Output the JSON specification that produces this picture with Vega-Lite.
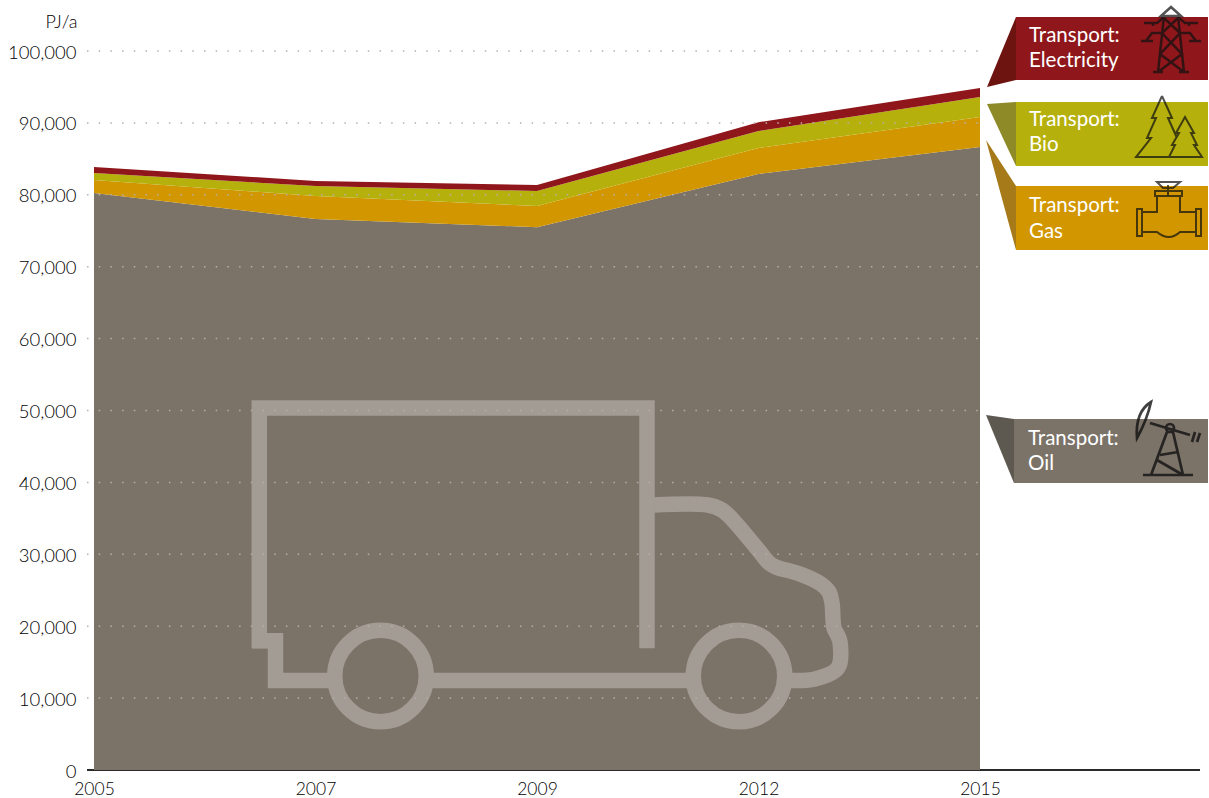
{
"$schema":"https://vega.github.io/schema/vega-lite/v6.json",
"width":1115,"height":719,"autosize":{"type":"none"},
"padding":{"left":94,"top":51,"right":0,"bottom":28},
"background":"white",
"config":{"view":{"stroke":null},"font":"Lato"},
"datasets":{
"energy":[
{"year":"2005","series":"Transport: Oil","rank":1,"pj":80250},
{"year":"2007","series":"Transport: Oil","rank":1,"pj":76630},
{"year":"2009","series":"Transport: Oil","rank":1,"pj":75500},
{"year":"2012","series":"Transport: Oil","rank":1,"pj":82900},
{"year":"2015","series":"Transport: Oil","rank":1,"pj":86650},
{"year":"2005","series":"Transport: Gas","rank":2,"pj":1800},
{"year":"2007","series":"Transport: Gas","rank":2,"pj":3200},
{"year":"2009","series":"Transport: Gas","rank":2,"pj":2940},
{"year":"2012","series":"Transport: Gas","rank":2,"pj":3600},
{"year":"2015","series":"Transport: Gas","rank":2,"pj":4170},
{"year":"2005","series":"Transport: Bio","rank":3,"pj":980},
{"year":"2007","series":"Transport: Bio","rank":3,"pj":1390},
{"year":"2009","series":"Transport: Bio","rank":3,"pj":2090},
{"year":"2012","series":"Transport: Bio","rank":3,"pj":2370},
{"year":"2015","series":"Transport: Bio","rank":3,"pj":2780},
{"year":"2005","series":"Transport: Electricity","rank":4,"pj":830},
{"year":"2007","series":"Transport: Electricity","rank":4,"pj":700},
{"year":"2009","series":"Transport: Electricity","rank":4,"pj":830},
{"year":"2012","series":"Transport: Electricity","rank":4,"pj":1230},
{"year":"2015","series":"Transport: Electricity","rank":4,"pj":1250}
],
"truck":[
{"part":"box","seq":1,"u":553,"v":16926},{"part":"box","seq":2,"u":553,"v":50347},{"part":"box","seq":3,"u":165.3,"v":50347},{"part":"box","seq":4,"u":165.3,"v":16926},
{"part":"chassis","seq":1,"u":158,"v":17969},{"part":"chassis","seq":2,"u":181.5,"v":17969},{"part":"chassis","seq":3,"u":181.5,"v":12448},{"part":"chassis","seq":4,"u":241,"v":12448},
{"part":"bar","seq":1,"u":331,"v":12448},{"part":"bar","seq":2,"u":596,"v":12448}
],
"cab":[
{"seq":1,"u":560,"v":36856},{"seq":2,"u":614,"v":36856},{"seq":3,"u":628,"v":36161},{"seq":4,"u":639,"v":34770},{"seq":4.5,"u":666,"v":30320},{"seq":5,"u":675,"v":28800},{"seq":5.2,"u":682,"v":28233},{"seq":6,"u":706,"v":27260},{"seq":7,"u":727,"v":25869},{"seq":8,"u":735,"v":24756},{"seq":9,"u":738,"v":23226},{"seq":10,"u":740,"v":19749},{"seq":11,"u":744,"v":18637},{"seq":12,"u":746,"v":17802},{"seq":13,"u":746,"v":14882},{"seq":14,"u":742,"v":13908},{"seq":15,"u":721,"v":12656},{"seq":16,"u":706,"v":12448},{"seq":17,"u":691,"v":12448}
]
},
"resolve":{"scale":{"x":"independent","color":"independent"},"axis":{"y":"independent"}},
"layer":[
{"data":{"values":[{"u0":-7,"u1":1106,"v":0}]},"mark":{"type":"rule","stroke":"#2a2a2a","strokeWidth":2},
 "encoding":{"x":{"field":"u0","type":"quantitative","scale":{"domain":[0,1115]},"axis":null},"x2":{"field":"u1"},"y":{"field":"v","type":"quantitative","scale":{"domain":[0,100000],"nice":false},"axis":null}}},
{"data":{"name":"energy"},"mark":{"type":"area","interpolate":"linear"},
 "encoding":{
  "x":{"field":"year","type":"ordinal","scale":{"type":"point","domain":["2005","2007","2009","2012","2015"],"range":[0,886],"padding":0},
   "axis":{"title":null,"domain":false,"ticks":false,"labelAngle":0,"labelFont":"Lato","labelFontSize":17.5,"labelFontWeight":300,"labelColor":"#000000","labelPadding":10,"labelOverlap":false,"labelFlush":false,"labelBound":false,"grid":false}},
  "y":{"field":"pj","type":"quantitative","stack":"zero","scale":{"domain":[0,100000],"nice":false},
   "axis":{"title":"PJ/a","titleAngle":0,"titleFont":"Lato","titleFontWeight":300,"titleFontSize":18,"titleColor":"#000000","titleAlign":"right","titleBaseline":"middle","titleX":-17,"titleY":-29,"domain":false,"ticks":false,"grid":false,"values":[0,10000,20000,30000,40000,50000,60000,70000,80000,90000,100000],"format":",.0f","labelFont":"Lato","labelFontSize":18.5,"labelFontWeight":300,"labelColor":"#000000","labelPadding":18,"labelOffset":1}},
  "order":{"field":"rank","type":"quantitative"},
  "color":{"field":"series","type":"nominal","legend":null,"scale":{"domain":["Transport: Oil","Transport: Gas","Transport: Bio","Transport: Electricity"],"range":["#7b7268","#d29700","#b6b00c","#8f171b"]}}
 }},
{"data":{"name":"truck"},"mark":{"type":"line","stroke":"#a39c94","strokeWidth":15.5,"strokeCap":"butt","strokeJoin":"miter"},
 "encoding":{"x":{"field":"u","type":"quantitative","scale":{"domain":[0,1115]},"axis":null},"y":{"field":"v","type":"quantitative","scale":{"domain":[0,100000],"nice":false},"axis":null},"detail":{"field":"part"},"order":{"field":"seq","type":"quantitative"}}},
{"data":{"name":"cab"},"mark":{"type":"line","interpolate":"catmull-rom","stroke":"#a39c94","strokeWidth":15.5,"strokeCap":"butt","strokeJoin":"round"},
 "encoding":{"x":{"field":"u","type":"quantitative","scale":{"domain":[0,1115]},"axis":null},"y":{"field":"v","type":"quantitative","scale":{"domain":[0,100000],"nice":false},"axis":null},"order":{"field":"seq","type":"quantitative"}}},
{"data":{"values":[{"u":286.5,"v":13074},{"u":645,"v":13074}]},"mark":{"type":"point","shape":"circle","filled":false,"size":8372,"stroke":"#a39c94","strokeWidth":15.5,"opacity":1},
 "encoding":{"x":{"field":"u","type":"quantitative","scale":{"domain":[0,1115]},"axis":null},"y":{"field":"v","type":"quantitative","scale":{"domain":[0,100000],"nice":false},"axis":null}}},
{"data":{"values":[{"v":10000},{"v":20000},{"v":30000},{"v":40000},{"v":50000},{"v":60000},{"v":70000},{"v":80000},{"v":90000},{"v":100000}]},"mark":{"type":"rule","stroke":"#b5b0aa","strokeWidth":1.5,"strokeDash":[1.5,10.2]},
 "encoding":{"x":{"datum":-7,"type":"quantitative","scale":{"domain":[0,1115]},"axis":null},"x2":{"datum":892},"y":{"field":"v","type":"quantitative","scale":{"domain":[0,100000],"nice":false},"axis":null}}},
{"data":{"values":[
 {"series":"Electricity","u":893,"top":94992,"bottom":94992},{"series":"Electricity","u":922,"top":104727,"bottom":95965},
 {"series":"Bio","u":893,"top":92627,"bottom":92627},{"series":"Bio","u":922,"top":92905,"bottom":84004},
 {"series":"Gas","u":892,"top":87620,"bottom":87620},{"series":"Gas","u":922,"top":81223,"bottom":72322},
 {"series":"Oil","u":892,"top":49373,"bottom":49373},{"series":"Oil","u":920,"top":48817,"bottom":39916}
 ]},"mark":{"type":"area","opacity":1},
 "encoding":{"x":{"field":"u","type":"quantitative","scale":{"domain":[0,1115]},"axis":null},"y":{"field":"top","type":"quantitative","stack":null,"scale":{"domain":[0,100000],"nice":false},"axis":null},"y2":{"field":"bottom"},
 "color":{"field":"series","type":"nominal","legend":null,"scale":{"domain":["Oil","Gas","Bio","Electricity"],"range":["#5d5850","#a67a18","#8e8a28","#6e1410"]}}}},
{"data":{"values":[
 {"series":"Electricity","u0":922,"u1":1114,"top":104727,"bottom":95965},
 {"series":"Bio","u0":922,"u1":1114,"top":92905,"bottom":84004},
 {"series":"Gas","u0":922,"u1":1114,"top":81223,"bottom":72322},
 {"series":"Oil","u0":920,"u1":1114,"top":48817,"bottom":39916}
 ]},"mark":{"type":"rect"},
 "encoding":{"x":{"field":"u0","type":"quantitative","scale":{"domain":[0,1115]},"axis":null},"x2":{"field":"u1"},"y":{"field":"top","type":"quantitative","scale":{"domain":[0,100000],"nice":false},"axis":null},"y2":{"field":"bottom"},
 "color":{"field":"series","type":"nominal","legend":null,"scale":{"domain":["Oil","Gas","Bio","Electricity"],"range":["#7b7268","#d29700","#b6b00c","#8f171b"]}}}},
{"data":{"values":[
 {"u":935,"v":102100,"t":"Transport:"},{"u":935,"v":98600,"t":"Electricity"},
 {"u":935,"v":90400,"t":"Transport:"},{"u":935,"v":86900,"t":"Bio"},
 {"u":935,"v":78440,"t":"Transport:"},{"u":935,"v":74820,"t":"Gas"},
 {"u":934,"v":46035,"t":"Transport:"},{"u":934,"v":42560,"t":"Oil"}
 ]},"mark":{"type":"text","align":"left","baseline":"middle","font":"Lato","fontSize":20.5,"fill":"#ffffff"},
 "encoding":{"x":{"field":"u","type":"quantitative","scale":{"domain":[0,1115]},"axis":null},"y":{"field":"v","type":"quantitative","scale":{"domain":[0,100000],"nice":false},"axis":null},"text":{"field":"t"}}},
{"data":{"values":[{"u":1077,"v":101528}]},"mark":{"type":"point","filled":false,"size":4,"stroke":"#111111","strokeWidth":2.5,"opacity":0.72,
 "shape":"M-10,-24L0,-33L10,-24ZM-7,-24L-13,32M7,-24L13,32M-18,32H-8M8,32H18M-8,-22L-14,-17H-27M-18,-17V-14M8,-22L14,-17H27M18,-17V-14M-10,-7H-19L-25,1H-30M-30,1H-18M10,-7H19L25,1H30M30,1H18M-7,-22L9,-7M7,-22L-9,-7M-9,-7L11,14M9,-7L-11,14M-11,14L13,32M11,14L-13,32"},
 "encoding":{"x":{"field":"u","type":"quantitative","scale":{"domain":[0,1115]},"axis":null},"y":{"field":"v","type":"quantitative","scale":{"domain":[0,100000],"nice":false},"axis":null}}},
{"data":{"values":[{"u":1076,"v":89428}]},"mark":{"type":"point","filled":false,"size":4,"stroke":"#111111","strokeWidth":2,"opacity":0.72,
 "shape":"M-8,-31L-18,-9H-14L-23,11H-19L-34,30H32L24,18H27L21,6H24L15,-10L6,6H9L2,18H5L-1,30M-8,-31L2,-9H-2L7,11"},
 "encoding":{"x":{"field":"u","type":"quantitative","scale":{"domain":[0,1115]},"axis":null},"y":{"field":"v","type":"quantitative","scale":{"domain":[0,100000],"nice":false},"axis":null}}},
{"data":{"values":[{"u":1074,"v":77189}]},"mark":{"type":"point","filled":false,"size":4,"stroke":"#111111","strokeWidth":2,"opacity":0.72,
 "shape":"M-11,-33H12L5,-27H-5ZM0,-30V-19M-13,-24H14V-19H-13ZM-11,-19V-3H-26M12,-19V-3H27M-31,-6H-26V21H-31ZM28,-6H33V21H28ZM-26,17H-11Q1,27 12,17H27"},
 "encoding":{"x":{"field":"u","type":"quantitative","scale":{"domain":[0,1115]},"axis":null},"y":{"field":"v","type":"quantitative","scale":{"domain":[0,100000],"nice":false},"axis":null}}},
{"data":{"values":[{"u":1076,"v":45896}]},"mark":{"type":"point","filled":false,"size":4,"stroke":"#111111","strokeWidth":2.7,"opacity":0.8,
 "shape":"M-19,-38Q-35,-28 -33,-2Q-23,-20 -19,-38ZM-20,-17L20,-5M-4,-12A4,4 0 1 1 4,-12A4,4 0 1 1 -4,-12ZM25,-8L22,2M30,-7L27,2M-3,-8L-19,35M3,-8L13,35M-27,35H23M-10,15L8,12M-13,20L13,35"},
 "encoding":{"x":{"field":"u","type":"quantitative","scale":{"domain":[0,1115]},"axis":null},"y":{"field":"v","type":"quantitative","scale":{"domain":[0,100000],"nice":false},"axis":null}}}
]
}
